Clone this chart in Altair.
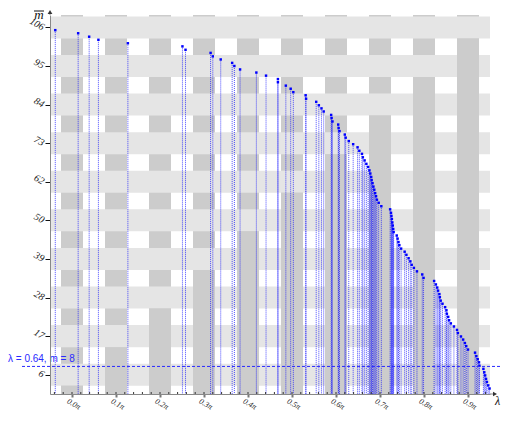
import altair as alt
import pandas as pd

# eigenvalue positions (in units of pi) and the corresponding m values
lam = [0.012, 0.064, 0.089, 0.110, 0.177, 0.301, 0.308, 0.365, 0.370, 0.388,
       0.414, 0.419, 0.432, 0.469, 0.491, 0.518, 0.518, 0.536, 0.547, 0.553,
       0.581, 0.582, 0.605, 0.611, 0.617, 0.622, 0.639, 0.640, 0.642, 0.655,
       0.656, 0.658, 0.670, 0.672, 0.679, 0.689, 0.699, 0.703, 0.709, 0.711,
       0.715, 0.719, 0.723, 0.726, 0.728, 0.730, 0.731, 0.733, 0.735, 0.737,
       0.739, 0.741, 0.743, 0.747, 0.753, 0.773, 0.775, 0.776, 0.777, 0.778,
       0.779, 0.780, 0.781, 0.788, 0.790, 0.792, 0.794, 0.798, 0.806, 0.810,
       0.815, 0.819, 0.822, 0.827, 0.834, 0.846, 0.849, 0.873, 0.877, 0.880,
       0.882, 0.885, 0.886, 0.888, 0.892, 0.898, 0.901, 0.902, 0.905, 0.907,
       0.911, 0.918, 0.925, 0.927, 0.934, 0.939, 0.943, 0.946, 0.950, 0.966,
       0.969, 0.972, 0.975, 0.976, 0.985, 0.987, 0.989, 0.991, 0.993, 0.996, 0.999]
m_vals = [105.6, 104.7, 103.7, 102.8, 101.8, 100.9, 99.9, 99.0, 98.0, 97.1,
          96.1, 95.2, 94.2, 93.3, 92.4, 91.4, 90.5, 89.5, 88.6, 87.6,
          86.7, 85.7, 84.8, 83.8, 82.9, 82.0, 81.0, 80.1, 79.1, 78.2,
          77.2, 76.3, 75.3, 74.4, 73.4, 72.5, 71.6, 70.6, 69.7, 68.7,
          67.8, 66.8, 65.9, 64.9, 64.0, 63.0, 62.1, 61.2, 60.2, 59.3,
          58.3, 57.4, 56.4, 55.5, 54.5, 53.6, 52.6, 51.7, 50.8, 49.8,
          48.9, 47.9, 47.0, 46.0, 45.1, 44.1, 43.2, 42.2, 41.3, 40.4,
          39.4, 38.5, 37.5, 36.6, 35.6, 34.7, 33.7, 32.8, 31.8, 30.9,
          30.0, 29.0, 28.1, 27.1, 26.2, 25.2, 24.3, 23.3, 22.4, 21.4,
          20.5, 19.6, 18.6, 17.7, 16.7, 15.8, 14.8, 13.9, 12.9, 12.0,
          11.0, 10.1, 9.2, 8.2, 7.3, 6.3, 5.4, 4.4, 3.5, 2.5, 1.6]

y_tick_values = [5.6, 16.8, 28.0, 39.2, 50.4, 61.6, 72.8, 84.0, 95.2, 106.4]
y_tick_labels = ["6", "17", "28", "39", "50", "62", "73", "84", "95", "106"]
x_tick_values = [0.05, 0.15, 0.25, 0.35, 0.45, 0.55, 0.65, 0.75, 0.85, 0.95]
x_tick_labels = ["0.0π", "0.1π", "0.2π", "0.3π", "0.4π", "0.5π", "0.6π", "0.7π", "0.8π", "0.9π"]
x_minor_ticks = [0.01, 0.03, 0.05, 0.07, 0.09, 0.11, 0.13, 0.15, 0.17, 0.19,
                 0.21, 0.23, 0.25, 0.27, 0.29, 0.31, 0.33, 0.35, 0.37, 0.39,
                 0.41, 0.43, 0.45, 0.47, 0.49, 0.51, 0.53, 0.55, 0.57, 0.59,
                 0.61, 0.63, 0.65, 0.67, 0.69, 0.71, 0.73, 0.75, 0.77, 0.79,
                 0.81, 0.83, 0.85, 0.87, 0.89, 0.91, 0.93, 0.95, 0.97, 0.99]
marker_m = [8]
marker_text = ["λ = 0.64, m = 8"]

band_half = 3.2
col_half = 0.025
y_top = 110

W, H = 440, 379
xs = alt.Scale(domain=[0, 1], nice=False, zero=False)
ys = alt.Scale(domain=[0, y_top], nice=False, zero=False)

cols = pd.DataFrame({"x0": [c - col_half for c in x_tick_values],
                     "x1": [c + col_half for c in x_tick_values],
                     "y0": [0] * 10, "y1": [y_top] * 10})
bands = pd.DataFrame({"y0": [b - band_half for b in y_tick_values],
                      "y1": [b + band_half for b in y_tick_values],
                      "x0": [0] * 10, "x1": [1] * 10})
stubs = pd.DataFrame({"x0": [c - col_half for c in x_tick_values],
                      "x1": [c + col_half for c in x_tick_values],
                      "y0": [0] * 10,
                      "y1": [b - band_half for b in y_tick_values]})
pts = pd.DataFrame({"lam": lam, "m": m_vals})
minor = pd.DataFrame({"t": x_minor_ticks})
mark_df = pd.DataFrame({"m": marker_m, "txt": marker_text})

serif = "Liberation Serif"


def label_expr(values, labels):
    expr = "''"
    for v, lab in reversed(list(zip(values, labels))):
        expr = "abs(datum.value - %r) < 1e-6 ? '%s' : (%s)" % (v, lab, expr)
    return expr


x_axis = alt.Axis(values=x_tick_values, labelExpr=label_expr(x_tick_values, x_tick_labels),
                  title=None, grid=False,
                  labelAngle=30, labelAlign="left", labelBaseline="top",
                  labelFont=serif, labelFontStyle="italic", labelFontSize=8, labelColor="#222",
                  labelPadding=0, labelOffset=-3,
                  tickColor="#777", tickWidth=2, tickSize=3,
                  domainColor="#888", domainWidth=1, zindex=1)
y_axis = alt.Axis(values=y_tick_values, labelExpr=label_expr(y_tick_values, y_tick_labels),
                  title=None, grid=False,
                  labelAngle=30, labelAlign="right", labelBaseline="middle",
                  labelFont=serif, labelFontStyle="italic", labelFontSize=10, labelColor="#222",
                  labelPadding=2,
                  tickColor="#111", tickWidth=1, tickSize=5,
                  domainColor="#888", domainWidth=1, zindex=1)

col_layer = alt.Chart(cols).mark_rect(color="#cccccc").encode(
    x=alt.X("x0:Q", scale=xs, axis=x_axis), x2="x1",
    y=alt.Y("y0:Q", scale=ys, axis=y_axis), y2="y1")
band_layer = alt.Chart(bands).mark_rect(color="#e5e5e5").encode(
    x=alt.X("x0:Q", scale=xs), x2="x1",
    y=alt.Y("y0:Q", scale=ys), y2="y1")
stub_layer = alt.Chart(stubs).mark_rect(color="#cccccc").encode(
    x=alt.X("x0:Q", scale=xs), x2="x1",
    y=alt.Y("y0:Q", scale=ys), y2="y1")

drop_layer = alt.Chart(pts).mark_rule(color="#0000ff", strokeWidth=1, strokeDash=[1, 1], opacity=0.7).encode(
    x=alt.X("lam:Q", scale=xs),
    y=alt.Y("m:Q", scale=ys), y2=alt.datum(0))
pt_layer = alt.Chart(pts).mark_square(size=6, color="#0000ff", opacity=1).encode(
    x=alt.X("lam:Q", scale=xs),
    y=alt.Y("m:Q", scale=ys))

m_line = alt.Chart(mark_df).mark_rule(color="#2a2aff", strokeWidth=1, strokeDash=[3, 2]).encode(
    y=alt.Y("m:Q", scale=ys), x=alt.value(-28), x2=alt.value(450))
m_text = alt.Chart(mark_df).mark_text(align="left", baseline="alphabetic", dy=-4,
                                      font="Liberation Sans", fontSize=10, color="#2a2aff").encode(
    y=alt.Y("m:Q", scale=ys), x=alt.value(-42), text="txt:N")

minor_layer = alt.Chart(minor).mark_rule(color="#333", strokeWidth=1).encode(
    x=alt.X("t:Q", scale=xs), y=alt.value(H - 2), y2=alt.value(H))

deco = pd.DataFrame({"k": [0]})
y_ext = alt.Chart(deco).mark_rule(color="#888", strokeWidth=1).encode(
    x=alt.value(0), y=alt.value(-3), y2=alt.value(0))
y_arrow = alt.Chart(deco).mark_point(shape="triangle-up", filled=True, size=22, color="#333", opacity=1).encode(
    x=alt.value(0), y=alt.value(-3))
x_ext = alt.Chart(deco).mark_rule(color="#888", strokeWidth=1).encode(
    x=alt.value(W), x2=alt.value(W + 5), y=alt.value(H))
x_arrow = alt.Chart(deco).mark_point(shape="triangle-right", filled=True, size=22, color="#333", opacity=1).encode(
    x=alt.value(W + 5), y=alt.value(H))
lam_title = alt.Chart(deco).mark_text(text="λ", align="left", baseline="alphabetic",
                                      font=serif, fontStyle="italic", fontSize=12, color="#111").encode(
    x=alt.value(W + 5), y=alt.value(H + 11))
m_title = alt.Chart(deco).mark_text(text="m", align="center", baseline="alphabetic",
                                    font=serif, fontStyle="italic", fontSize=13, color="#111").encode(
    x=alt.value(-11), y=alt.value(4))
m_bar = alt.Chart(deco).mark_rule(color="#111", strokeWidth=1).encode(
    x=alt.value(-16), x2=alt.value(-6), y=alt.value(-4))

chart = alt.layer(col_layer, band_layer, stub_layer, drop_layer, pt_layer, m_line, m_text,
                  minor_layer, y_ext, y_arrow, x_ext, x_arrow, lam_title, m_title, m_bar).properties(
    width=W, height=H,
    autosize=alt.AutoSizeParams(type="none"),
    padding={"left": 42, "top": 7, "right": 11, "bottom": 18},
).configure_view(stroke=None).configure_axis(grid=False, title=None)

chart.save("out.html", embed_options={"renderer": "svg", "actions": False})
